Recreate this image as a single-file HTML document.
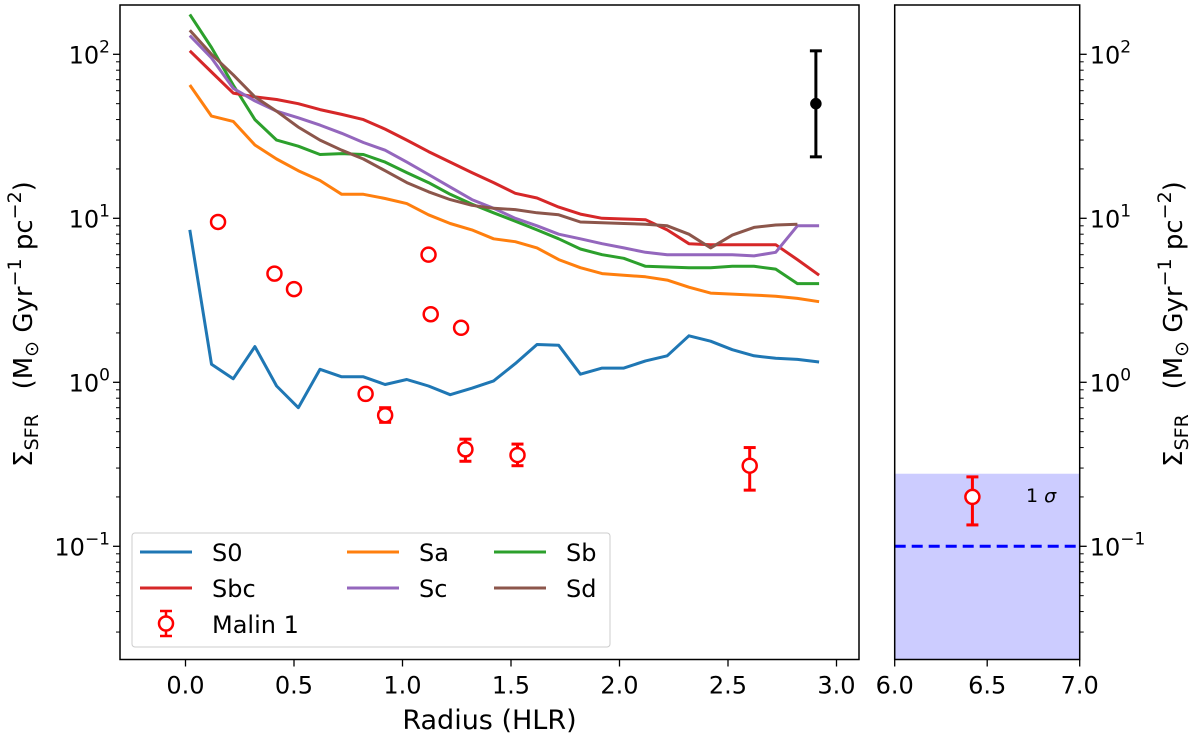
<!DOCTYPE html>
<html><head><meta charset="utf-8"><style>
body{margin:0;background:#fff;}
svg{display:block;font-family:"DejaVu Sans","Liberation Sans",sans-serif;}
</style></head><body>
<svg id="c" width="1200" height="739" viewBox="0 0 1200 739"></svg>
<script>
const radii = [0.02,0.12,0.22,0.32,0.42,0.52,0.62,0.72,0.82,0.92,1.02,1.12,1.22,1.32,1.42,1.52,1.62,1.72,1.82,1.92,2.02,2.12,2.22,2.32,2.42,2.52,2.62,2.72,2.82,2.92];
const s0 = [8.5,1.29,1.05,1.65,0.95,0.7,1.2,1.08,1.08,0.97,1.04,0.95,0.84,0.92,1.02,1.3,1.7,1.68,1.12,1.22,1.22,1.35,1.45,1.92,1.78,1.58,1.45,1.4,1.38,1.33];
const sbc = [105,78,58,55,53,50,46,43,40,35,30,25.5,22,19,16.5,14.2,13.3,11.7,10.6,10,9.9,9.8,8.5,7,6.9,6.9,6.9,6.9,5.6,4.5];
const sa = [65,42,39,28,23,19.5,17,14,14,13.2,12.3,10.5,9.3,8.5,7.5,7.2,6.6,5.6,5,4.6,4.5,4.4,4.2,3.8,3.5,3.45,3.4,3.35,3.25,3.1];
const sb = [175,110,65,40,30,27.5,24.5,24.8,24.5,22,19,16.5,14,12.2,10.8,9.6,8.5,7.5,6.5,6,5.7,5.1,5.05,5.0,5.0,5.1,5.1,4.9,4.0,4.0];
const sc = [130,95,62,52,45,41,37,33,29,26,22,18.5,15.5,13,11.5,10,9,8,7.5,7,6.6,6.2,6.0,6.0,6.0,6.0,5.9,6.2,9,9];
const sd = [140,100,75,55,45,36,30,26,23,19.5,16.5,14.5,13,12,11.5,11.3,10.8,10.5,9.5,9.4,9.3,9.2,9,8,6.6,7.9,8.8,9.1,9.2];
const malinX = [0.15,0.41,0.5,1.12,1.13,1.27,0.83,0.92,1.29,1.53,2.6];
const malinY = [9.5,4.6,3.7,6.0,2.6,2.15,0.85,0.63,0.39,0.36,0.31];
const malinLo = [9.5,4.6,3.7,6.0,2.6,2.15,0.82,0.57,0.33,0.31,0.22];
const malinHi = [9.5,4.6,3.7,6.0,2.6,2.15,0.88,0.70,0.45,0.42,0.40];
const refPt = [2.905,50,23.7,105];
const outerPt = [6.42,0.2,0.135,0.265];
const bandTop = 0.277;
const threshold = 0.1;
const xTicks = [0.0,0.5,1.0,1.5,2.0,2.5,3.0];
const xTicks2 = [6.0,6.5,7.0];
const yDecades = [-1,0,1,2];

const NS="http://www.w3.org/2000/svg";
const svg=document.getElementById('c');
function el(t,a,p){const e=document.createElementNS(NS,t);for(const k in a)e.setAttribute(k,a[k]);(p||svg).appendChild(e);return e;}
const X=v=>185.5+217*v;
const X2=v=>894.7+185*(v-6);
const Y=v=>546.3-164*(Math.log10(v)+1);
const T=5,B=659.5,L=120,R=859,L2=894.7,R2=1079.7;

let band=el('rect',{x:L2,y:Y(bandTop),width:R2-L2,height:B-Y(bandTop),fill:'#ccccff'});

let dl=el('line',{x1:L2,x2:R2,y1:Y(threshold),y2:Y(threshold),stroke:'#0000ff','stroke-width':3,'stroke-dasharray':'11,6'});

let sg=el('text',{x:1026,y:Y(0.205)+7,'font-size':19,'text-anchor':'start'});sg.textContent='1 ';
let sgi=el('tspan',{'font-style':'italic'},sg);sgi.textContent='σ';


[[s0,'#1f77b4','s0'],[sa,'#ff7f0e','sa'],[sb,'#2ca02c','sb'],[sbc,'#d62728','sbc'],[sc,'#9467bd','sc'],[sd,'#8c564b','sd']].forEach(s=>{
  const d=s[0].map((v,i)=>(i?'L':'M')+X(radii[i]).toFixed(1)+' '+Y(v).toFixed(1)).join(' ');
  const p=el('path',{d:d,fill:'none',stroke:s[1],'stroke-width':3,'stroke-linejoin':'round'});
  
  
});
function errPt(cx,v,lo,hi,col,fill,r,name){
  const g=el('g',{});
  
  
  if(hi>lo){
    el('line',{x1:cx,x2:cx,y1:Y(lo),y2:Y(hi),stroke:col,'stroke-width':3},g);
    el('line',{x1:cx-6,x2:cx+6,y1:Y(lo),y2:Y(lo),stroke:col,'stroke-width':3},g);
    el('line',{x1:cx-6,x2:cx+6,y1:Y(hi),y2:Y(hi),stroke:col,'stroke-width':3},g);
  }
  el('circle',{cx:cx,cy:Y(v),r:r,fill:fill,stroke:col,'stroke-width':2.5},g);
}
malinX.forEach((x,i)=>errPt(X(x),malinY[i],malinLo[i],malinHi[i],'#ff0000','#fff',7,'malin1-point'));
errPt(X(refPt[0]),refPt[1],refPt[2],refPt[3],'#000','#000',4.5,'error-reference-point');
errPt(X2(outerPt[0]),outerPt[1],outerPt[2],outerPt[3],'#ff0000','#fff',7,'malin1-outer-point');

let f1=el('rect',{x:L,y:T,width:R-L,height:B-T,fill:'none',stroke:'#000','stroke-width':1.5});

let f2=el('rect',{x:L2,y:T,width:R2-L2,height:B-T,fill:'none',stroke:'#000','stroke-width':1.5});


xTicks.forEach(t=>{const x=X(t);el('line',{x1:x,x2:x,y1:B,y2:B+7,stroke:'#000','stroke-width':1.3});
  const tx=el('text',{x:x,y:B+34,'font-size':24,'text-anchor':'middle'});tx.textContent=t.toFixed(1);
  });
xTicks2.forEach(t=>{const x=X2(t);el('line',{x1:x,x2:x,y1:B,y2:B+7,stroke:'#000','stroke-width':1.3});
  const tx=el('text',{x:x,y:B+34,'font-size':24,'text-anchor':'middle'});tx.textContent=t.toFixed(1);
  });
function yTicks(ax,dir,labelX,anchor,name){
  for(let d=-2;d<=2;d++){for(let m=1;m<10;m++){const v=m*Math.pow(10,d);const y=Y(v);if(y<T||y>B)continue;
    const len=m==1?7:4;el('line',{x1:ax,x2:ax+dir*len,y1:y,y2:y,stroke:'#000','stroke-width':m==1?1.3:1});}}
  yDecades.forEach(d=>{const y=Y(Math.pow(10,d));
    const tx=el('text',{x:labelX,y:y+9,'font-size':24,'text-anchor':anchor});tx.textContent='10';
    const sp=el('tspan',{dy:-11,'font-size':17},tx);sp.textContent=String(d).replace('-','−');
    });
}
yTicks(L,-1,L-10,'end','y-tick-label');
yTicks(R2,1,R2+10,'start','y-tick-label-right');

const xt=el('text',{x:(L+R)/2,y:729,'font-size':27,'text-anchor':'middle'});xt.textContent='Radius (HLR)';

function yTitle(cx,name){
  const t=el('text',{x:0,y:0,'font-size':26,'text-anchor':'middle',transform:`translate(${cx},324) rotate(-90)`});
  t.innerHTML='Σ<tspan font-size="19" dy="6">SFR</tspan><tspan dy="-6" xml:space="preserve">   (M</tspan><tspan font-size="19" dy="6">⊙</tspan><tspan dy="-6"> Gyr</tspan><tspan font-size="19" dy="-11">−1</tspan><tspan dy="11"> pc</tspan><tspan font-size="19" dy="-11">−2</tspan><tspan dy="11">)</tspan>';
  
}
yTitle(32,'y-axis-title');yTitle(1182,'y-axis-title-right');

const lg=el('g',{});
el('rect',{x:132,y:533,width:478,height:114,rx:3,fill:'#fff','fill-opacity':0.8,stroke:'#ccc','stroke-width':1},lg);
const ent=[['S0','#1f77b4',140,552],['Sa','#ff7f0e',347,552],['Sb','#2ca02c',494,552],['Sbc','#d62728',140,588],['Sc','#9467bd',347,588],['Sd','#8c564b',494,588]];
ent.forEach(it=>{const g=el('g',{},lg);
  
  
  el('line',{x1:it[2],x2:it[2]+52,y1:it[3],y2:it[3],stroke:it[1],'stroke-width':3},g);
  const t=el('text',{x:it[2]+72,y:it[3]+9,'font-size':24},g);t.textContent=it[0];});
const mg=el('g',{},lg);


el('line',{x1:166,x2:166,y1:611,y2:636,stroke:'#f00','stroke-width':2.5},mg);
el('line',{x1:160,x2:172,y1:611,y2:611,stroke:'#f00','stroke-width':2.5},mg);
el('line',{x1:160,x2:172,y1:636,y2:636,stroke:'#f00','stroke-width':2.5},mg);
el('circle',{cx:166,cy:623.5,r:7,fill:'#fff',stroke:'#f00','stroke-width':2.5},mg);
const mt=el('text',{x:212,y:633,'font-size':24},mg);mt.textContent='Malin 1';
</script>
</body></html>
